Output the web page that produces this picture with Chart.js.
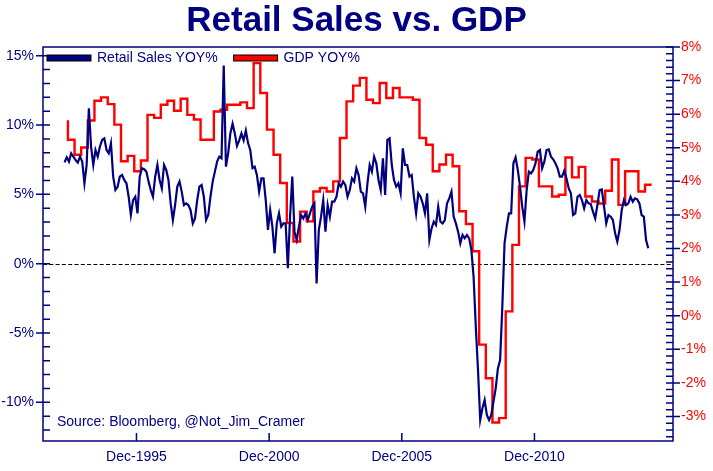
<!DOCTYPE html>
<html lang="en">
<head>
<meta charset="utf-8">
<title>Retail Sales vs. GDP</title>
<style>
    html, body { margin: 0; padding: 0; background: #ffffff; }
    #chartBox { width: 713px; height: 471px; }
</style>
</head>
<body>
<div id="chartBox">
    <canvas id="salesChart" width="713" height="471"></canvas>
</div>
<script src="https://cdn.jsdelivr.net/npm/chart.js"></script>
<script>
    const NAVY = '#000080';
    const RED = '#ff0000';
    const FONT = 'Arial, "Liberation Sans", Helvetica, sans-serif';

    // retail sales YOY %, monthly, first value Mar 1993
    const retailStart = [1993, 3];
    const retailSales = [
        7.31, 7.67, 7.36, 7.96, 7.72, 7.48, 7.29, 7.72, 7.36, 5.8,
        7.12, 11.2, 8.44, 7.12, 8.2, 7.72, 8.44, 8.92, 9.04, 8.2,
        7.96, 8.68, 6.28, 5.32, 5.55, 6.28, 6.4, 6.04, 5.8, 4.83,
        3.51, 4.59, 4.83, 3.63, 6.28, 6.88, 6.81, 6.64, 5.92,
        5.31, 4.83, 6.28, 7.12, 6.04, 5.44, 7.12, 6.76, 6.04, 4.35,
        3.15, 4.23, 5.56, 5.92, 5.2, 4.23, 4.35, 4.23, 3.87, 2.91,
        3.27, 4.59, 5.56, 5.68, 4.83, 3.15, 3.51, 4.83, 5.92, 6.64,
        7.36, 7.72, 7.6, 14.3, 7.0, 7.96, 9.4, 10.1, 9.4, 8.5,
        8.9, 9.4, 8.9, 9.6, 8.7, 8.2, 6.9, 7.0,
        6.4, 5.2, 6.16, 6.16, 4.59, 2.43, 3.87, 2.67, 0.75, 2.91,
        3.63, 2.67, 2.91, 2.91, -0.33, 3.39, 6.28, 2.31, 1.71, 2.67,
        3.51, 3.27, 3.63, 3.15, 3.63, 4.11, 4.35, -1.42, 2.43, 3.39,
        4.59, 2.31, 4.23, 3.39, 4.47, 4.47, 4.83, 5.8, 5.56, 5.92,
        5.68, 4.83, 5.31, 6.16, 5.92, 6.88, 6.4,
        5.2, 5.08, 4.11, 5.8, 7.12, 6.64, 7.72, 7.24, 6.04, 5.31,
        7.6, 4.96, 8.92, 9.04, 7.12, 6.04, 5.56, 5.8, 5.08, 8.32,
        7.12, 7.12, 6.28, 6.4, 4.83, 3.63, 5.08, 4.83, 4.35, 3.63,
        5.08, 1.71, 2.55, 3.03, 2.79, 4.11, 3.03, 2.91, 3.15, 4.35,
        4.71, 5.2, 3.39, 2.91, 2.31, 1.47, 2.07, 1.83,
        2.07, 1.83, 0.99, -0.94, -4.54, -7.67, -11.27, -10.43, -9.83, -10.91,
        -11.27, -10.91, -9.95, -8.99, -7.55, -6.95, -3.1, 1.47, 2.67, 3.63,
        3.63, 7.24, 7.67, 6.76, 5.56, 4.11, 3.03, 5.31, 6.64, 6.52,
        6.76, 7.24, 8.08, 8.2, 6.88, 7.36, 8.2, 8.25, 7.72, 7.53,
        7.24, 6.88, 6.28, 6.28, 6.71, 6.16, 5.44,
        5.08, 3.51, 3.63, 4.83, 4.96, 4.59, 3.99, 4.59, 4.35, 4.3,
        3.75, 3.27, 4.23, 5.31, 5.36, 4.11, 2.91, 3.51, 3.39, 3.15,
        2.19, 1.59, 2.43, 3.87, 4.59, 4.23, 4.35, 4.83, 4.47, 4.71,
        4.64, 4.35, 3.51, 3.39, 1.71, 1.11
    ];

    // GDP YOY %, quarterly, each value runs up to its date; first date May 1993
    const gdpStart = [1993, 5];
    const gdpYoy = [
        5.82, 5.24, 4.79, 5.01, 5.81, 6.4, 6.5, 6.3, 5.69, 4.6,
        4.76, 4.3, 4.62, 5.98, 5.89, 6.28, 6.4, 6.1, 6.46, 5.98,
        5.84, 5.24, 5.24, 6.08, 6.13, 6.28, 6.28, 6.35, 6.18, 7.52,
        6.63, 5.54, 4.79, 3.95, 2.76, 2.21, 3.1, 2.81, 3.7, 3.8,
        3.7, 4.0, 5.29, 6.38, 6.85, 7.08, 6.43, 6.33, 6.93, 6.48,
        6.78, 6.5, 6.5, 6.43, 5.29, 5.09, 4.3, 4.5, 4.79, 4.45,
        3.11, 2.73, 1.92, -0.86, -1.86, -3.18, -3.05, 0.13, 2.11, 3.85,
        4.7, 4.65, 3.85, 3.85, 3.55, 3.6, 4.71, 4.12, 4.43, 3.55,
        3.4, 3.34, 3.72, 4.65, 3.3, 4.3, 4.3, 3.7, 3.9
    ];

    const xTickLabels = ['Dec-1995', 'Dec-2000', 'Dec-2005', 'Dec-2010'];
    const leftTicks = [-10, -5, 0, 5, 10, 15];
    const rightTicks = [-3, -2, -1, 0, 1, 2, 3, 4, 5, 6, 7, 8];
    const seriesNames = ['Retail Sales YOY%', 'GDP YOY%'];
    const sourceNote = 'Source: Bloomberg, @Not_Jim_Cramer';

    const xRange = [1992.394, 2016.138];
    const leftRange = [-12.79, 15.63];
    const rightRange = [-3.73, 8.0];

    const monthNames = ['Jan', 'Feb', 'Mar', 'Apr', 'May', 'Jun', 'Jul', 'Aug', 'Sep', 'Oct', 'Nov', 'Dec'];

    // fractional year, used as the x value
    function toYear(year, month, day) {
        return year + (month - 1 + (day - 1) / 30) / 12;
    }

    const retailPoints = retailSales.map((v, i) => ({
        x: toYear(retailStart[0], retailStart[1], 15) + i / 12,
        y: v
    }));
    const gdpPoints = gdpYoy.map((v, i) => ({
        x: toYear(gdpStart[0], gdpStart[1], 1) + i * 0.25,
        y: v
    }));
    const xTickValues = xTickLabels.map(label => {
        const [mon, yr] = label.split('-');
        return toYear(parseInt(yr, 10), monthNames.indexOf(mon) + 1, 1);
    });

    // zero line, frame, tick marks, legend and source note
    const decorPlugin = {
        id: 'decor',
        beforeDatasetsDraw(chart) {
            const { ctx, chartArea: a, scales } = chart;
            const y0 = Math.round(scales.y.getPixelForValue(0)) + 0.5;
            ctx.save();
            ctx.strokeStyle = '#000000';
            ctx.lineWidth = 1;
            ctx.setLineDash([4, 2.3]);
            ctx.beginPath();
            ctx.moveTo(a.left, y0);
            ctx.lineTo(a.right, y0);
            ctx.stroke();
            ctx.restore();
        },
        afterDraw(chart) {
            const { ctx, chartArea: a, scales } = chart;
            ctx.save();
            ctx.strokeStyle = NAVY;
            ctx.lineWidth = 1.5;
            ctx.strokeRect(a.left, a.top, a.right - a.left, a.bottom - a.top);

            ctx.beginPath();
            // left axis: every 1%, labelled ones stick out
            for (let v = Math.ceil(leftRange[0]); v <= Math.floor(leftRange[1]); v++) {
                const y = scales.y.getPixelForValue(v);
                ctx.moveTo(leftTicks.includes(v) ? a.left - 7 : a.left, y);
                ctx.lineTo(a.left + 7, y);
            }
            // right axis: every 0.2%
            for (let k = Math.ceil(rightRange[0] * 5); k <= Math.floor(rightRange[1] * 5); k++) {
                const y = scales.y2.getPixelForValue(k / 5);
                ctx.moveTo(a.right - 7, y);
                ctx.lineTo(k % 5 === 0 ? a.right + 7 : a.right, y);
            }
            // bottom axis
            xTickValues.forEach(v => {
                const x = scales.x.getPixelForValue(v);
                ctx.moveTo(x, a.bottom);
                ctx.lineTo(x, a.bottom - 8);
            });
            ctx.stroke();

            // legend
            ctx.font = '14px ' + FONT;
            ctx.textBaseline = 'middle';
            const ly = a.top + 11;
            let lx = a.left + 4;
            [NAVY, RED].forEach((color, i) => {
                ctx.fillStyle = color;
                ctx.fillRect(lx, ly - 3, 44, 6);
                ctx.strokeStyle = '#000000';
                ctx.lineWidth = 1;
                ctx.strokeRect(lx, ly - 3, 44, 6);
                ctx.fillStyle = NAVY;
                ctx.fillText(seriesNames[i], lx + 50, ly);
                lx += 50 + ctx.measureText(seriesNames[i]).width + 16;
            });

            ctx.fillStyle = NAVY;
            ctx.fillText(sourceNote, a.left + 14, a.bottom - 19);
            ctx.restore();
        }
    };

    const tickFont = { family: FONT, size: 14 };

    const chart = new Chart(document.getElementById('salesChart'), {
        type: 'line',
        data: {
            datasets: [{
                label: seriesNames[0],
                data: retailPoints,
                yAxisID: 'y',
                borderColor: NAVY,
                borderWidth: 2.2,
                pointRadius: 0,
                tension: 0
            }, {
                label: seriesNames[1],
                data: gdpPoints,
                yAxisID: 'y2',
                borderColor: RED,
                borderWidth: 2.4,
                pointRadius: 0,
                stepped: 'after'
            }]
        },
        options: {
            responsive: false,
            animation: false,
            layout: { padding: 0 },
            plugins: {
                legend: { display: false },
                tooltip: { enabled: false },
                title: {
                    display: true,
                    text: 'Retail Sales vs. GDP',
                    color: NAVY,
                    font: { family: FONT, size: 35, weight: 'bold' },
                    padding: { top: 0, bottom: 5 }
                }
            },
            scales: {
                x: {
                    type: 'linear',
                    min: xRange[0],
                    max: xRange[1],
                    grid: { display: false, drawTicks: false },
                    border: { display: false },
                    afterBuildTicks: s => { s.ticks = xTickValues.map(v => ({ value: v })); },
                    ticks: {
                        autoSkip: false,
                        maxRotation: 0,
                        padding: 8,
                        color: NAVY,
                        font: tickFont,
                        callback: (v, i) => xTickLabels[i]
                    },
                    afterFit: s => { s.height = 30; }
                },
                y: {
                    position: 'left',
                    min: leftRange[0],
                    max: leftRange[1],
                    grid: { display: false, drawTicks: false },
                    border: { display: false },
                    afterBuildTicks: s => { s.ticks = leftTicks.map(v => ({ value: v })); },
                    ticks: { padding: 9, color: NAVY, font: tickFont, callback: v => v + '%' },
                    afterFit: s => { s.width = 43; }
                },
                y2: {
                    position: 'right',
                    min: rightRange[0],
                    max: rightRange[1],
                    grid: { display: false, drawTicks: false },
                    border: { display: false },
                    afterBuildTicks: s => { s.ticks = rightTicks.map(v => ({ value: v })); },
                    ticks: { padding: 8, color: RED, font: tickFont, callback: v => v + '%' },
                    afterFit: s => { s.width = 40; }
                }
            }
        },
        plugins: [decorPlugin]
    });
</script>
</body>
</html>
